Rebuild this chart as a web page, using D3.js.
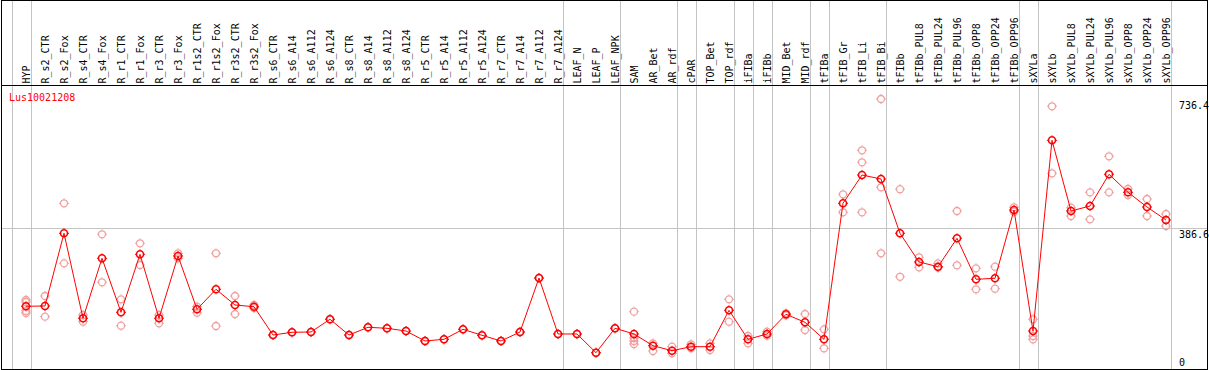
<!DOCTYPE html>
<html>
<head>
<meta charset="utf-8">
<script src="https://cdn.jsdelivr.net/npm/d3@7"></script>
<style>
    body { margin: 0; background: #fff; }
    svg { display: block; }
    text { font-family: "DejaVu Sans Mono", monospace; font-size: 10px; }
</style>
</head>
<body>
<div id="chart"></div>
<script>
const geneId = 'Lus10021208';

const samples = [
    'HYP', 'R_s2_CTR', 'R_s2_Fox', 'R_s4_CTR', 'R_s4_Fox', 'R_r1_CTR', 'R_r1_Fox', 'R_r3_CTR', 'R_r3_Fox',
    'R_r1s2_CTR', 'R_r1s2_Fox', 'R_r3s2_CTR', 'R_r3s2_Fox',
    'R_s6_CTR', 'R_s6_A14', 'R_s6_A112', 'R_s6_A124', 'R_s8_CTR', 'R_s8_A14', 'R_s8_A112', 'R_s8_A124',
    'R_r5_CTR', 'R_r5_A14', 'R_r5_A112', 'R_r5_A124', 'R_r7_CTR', 'R_r7_A14', 'R_r7_A112', 'R_r7_A124',
    'LEAF_N', 'LEAF_P', 'LEAF_NPK', 'SAM', 'AR_Bet', 'AR_rdf', 'cPAR', 'TOP_Bet', 'TOP_rdf',
    'iFIBa', 'iFIBb', 'MID_Bet', 'MID_rdf', 'tFIBa', 'tFIB_Gr', 'tFIB_Li', 'tFIB_Bi',
    'tFIBb', 'tFIBb_PUL8', 'tFIBb_PUL24', 'tFIBb_PUL96', 'tFIBb_OPP8', 'tFIBb_OPP24', 'tFIBb_OPP96',
    'sXYLa', 'sXYLb', 'sXYLb_PUL8', 'sXYLb_PUL24', 'sXYLb_PUL96', 'sXYLb_OPP8', 'sXYLb_OPP24', 'sXYLb_OPP96'
];

// mean expression per sample (red line)
const means = [
    172.1, 172.9, 370.8, 139.4, 302.8, 155.7, 313.6, 139.4, 309.0,
    163.9, 218.4, 175.6, 171.0,
    93.9, 101.3, 102.1, 136.7, 93.9, 114.9, 112.2, 104.8,
    77.6, 82.2, 109.4, 93.1, 77.6, 102.1, 249.1, 96.7,
    96.7, 45.7, 112.2, 96.7, 64.8, 51.2, 62.1, 62.1, 161.2,
    82.2, 96.7, 150.3, 128.5, 82.2, 452.5, 529.5, 518.7,
    370.8, 292.7, 279.9, 357.2, 245.6, 248.3, 434.3,
    104.8, 624.0, 431.5, 445.1, 531.5, 482.4, 442.4, 407.0
];

// individual replicates (faded circles)
const reps = [
    [189.2, 183.8, 159.3, 153.9], [200.1, 143.8], [452.5, 289.1], [148.4, 130.1], [368.1, 237.4],
    [191.1, 119.2], [343.6, 284.5], [148.4, 125.8], [316.4, 302.8],
    [171.0, 154.6], [316.4, 118.4], [200.1, 151.1], [175.6, 167.4],
    [93.9], [101.3], [102.1], [136.7], [93.9], [114.9], [112.2], [104.8],
    [77.6], [82.2], [109.4], [93.1], [77.6], [102.1], [249.1], [96.7],
    [96.7], [45.7], [112.2], [157.4, 85.8, 77.6, 69.4], [71.3, 50.4], [62.1, 44.1], [68.6, 57.7], [71.3, 53.1], [191.1, 130.1],
    [91.2, 71.3], [102.9, 92.0], [153.0, 147.6], [151.1, 107.5], [109.4, 57.7], [477.0, 428.0], [596.8, 564.1, 428.0], [736.4, 496.1, 316.4],
    [490.9, 252.4], [305.5, 278.3], [289.1, 277.2], [431.5, 283.7], [275.5, 218.4], [279.9, 220.0], [441.6, 429.6],
    [136.7, 91.2, 82.2], [716.6, 534.2], [440.5, 417.9], [482.4, 408.9], [580.5, 482.4], [491.4, 475.1], [464.2, 417.9], [423.4, 390.7]
];

// samples closing a tissue group (grey separator after them)
const groupEnds = [
    'HYP', 'R_r7_A124', 'LEAF_NPK', 'AR_rdf', 'cPAR', 'TOP_rdf', 'iFIBa', 'iFIBb',
    'MID_rdf', 'tFIBa', 'tFIB_Bi', 'tFIBb_OPP96', 'sXYLa', 'sXYLb_OPP96'
];

const yTickLabels = ['736.4', '386.6', '0'];

const width = 1209;
const height = 370;
const headerBottom = 85.5;
const plotBottom = 369.5;
const right = 1207.5;

const allValues = reps.flat().concat(means);
const maxVal = d3.max(allValues);

const x = d3.scalePoint()
    .domain(samples)
    .range([26, 1166]);

const y = d3.scaleLinear()
    .domain([0, maxVal * 1.05])
    .range([plotBottom, headerBottom]);

const svg = d3.select('#chart')
    .append('svg')
    .attr('width', width)
    .attr('height', height);

// grid
const sepX = [x(samples[0]) - x.step() + 4.5].concat(groupEnds.map(s => x(s) + 4.5));

svg.append('g')
    .attr('stroke', '#c4c4c4')
    .attr('shape-rendering', 'crispEdges')
    .selectAll('line')
    .data(sepX)
    .join('line')
    .attr('x1', d => Math.round(d) + 0.5)
    .attr('x2', d => Math.round(d) + 0.5)
    .attr('y1', 0)
    .attr('y2', height);

svg.append('line')
    .attr('x1', 1).attr('x2', right)
    .attr('y1', Math.round(y(maxVal * 1.05 / 2)) + 0.5)
    .attr('y2', Math.round(y(maxVal * 1.05 / 2)) + 0.5)
    .attr('stroke', '#c4c4c4')
    .attr('shape-rendering', 'crispEdges');

// frame + header rule
svg.append('rect')
    .attr('x', 1.5).attr('y', 0.5)
    .attr('width', right - 1.5).attr('height', plotBottom - 0.5)
    .attr('fill', 'none')
    .attr('stroke', '#000')
    .attr('shape-rendering', 'crispEdges');

svg.append('line')
    .attr('x1', 1).attr('x2', right)
    .attr('y1', headerBottom).attr('y2', headerBottom)
    .attr('stroke', '#000')
    .attr('shape-rendering', 'crispEdges');

// sample labels
svg.append('g')
    .selectAll('text')
    .data(samples)
    .join('text')
    .attr('transform', d => `translate(${x(d) + 3.5}, 83.5) rotate(-90)`)
    .attr('fill', '#000')
    .text(d => d);

// gene id
svg.append('text')
    .attr('x', 9)
    .attr('y', 100.5)
    .attr('fill', '#ff0000')
    .text(geneId);

// right-side value labels
const tickVals = [maxVal, maxVal * 1.05 / 2, 0];
svg.append('g')
    .selectAll('text')
    .data(yTickLabels)
    .join('text')
    .attr('x', 1179)
    .attr('y', (d, i) => i === 2 ? y(tickVals[i]) - 4 : y(tickVals[i]) + 10)
    .attr('fill', '#000')
    .text(d => d);

// marker with small ticks around the ring
const drawMarker = (g, color, sw) => {
    g.append('circle')
        .attr('r', 3.5)
        .attr('fill', 'none')
        .attr('stroke', color)
        .attr('stroke-width', sw);
    g.append('path')
        .attr('d', 'M0,-5V-4M0,4V5M-5,0H-4M4,0H5')
        .attr('stroke', color)
        .attr('stroke-width', 1);
};

// replicates
const repPts = [];
reps.forEach((r, i) => r.forEach(v => repPts.push({ s: samples[i], v })));

svg.append('g')
    .selectAll('g')
    .data(repPts)
    .join('g')
    .attr('transform', d => `translate(${x(d.s)}, ${y(d.v)})`)
    .each(function () { drawMarker(d3.select(this), '#f0a0a0', 1.3); });

// mean line
svg.append('path')
    .datum(means)
    .attr('fill', 'none')
    .attr('stroke', '#ff0000')
    .attr('stroke-width', 1)
    .attr('d', d3.line().x((d, i) => x(samples[i])).y(d => y(d)));

svg.append('g')
    .selectAll('g')
    .data(means)
    .join('g')
    .attr('transform', (d, i) => `translate(${x(samples[i])}, ${y(d)})`)
    .each(function () { drawMarker(d3.select(this), '#ff0000', 1.6); });
</script>
</body>
</html>
